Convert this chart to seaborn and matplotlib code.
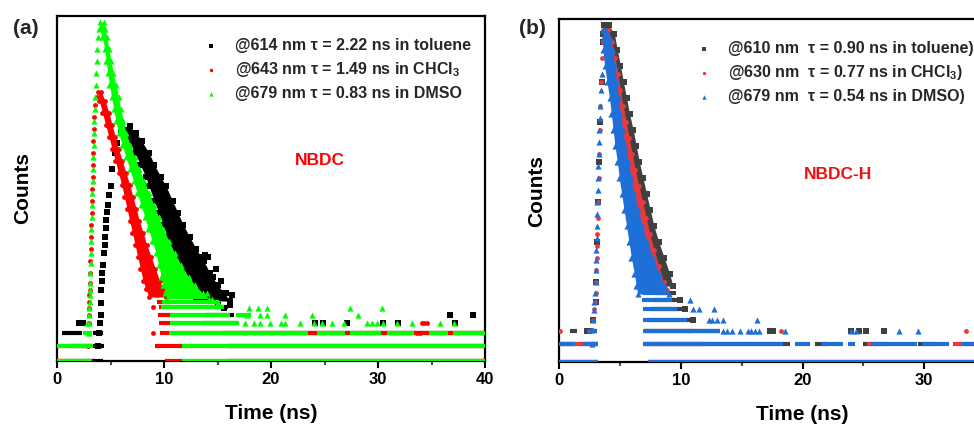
import numpy as np
import pandas as pd
import matplotlib
matplotlib.use("Agg")
import matplotlib.pyplot as plt
import seaborn as sns
from matplotlib.ticker import MultipleLocator, NullLocator, FixedLocator

# ------------------------------------------------------------------
# Data.  y values are log10(counts) (arbitrary
# count unit, no y tick labels in the original); x values are time, ns.
# Bands: horizontal slices (log level, left time, right time) of the
# dense point clouds. Rows: (log level, t_start, t_end) runs of points
# at the low quantised count levels. Iso: isolated points.
# ------------------------------------------------------------------

# ---------------- panel (a)  NBDC ----------------
a_labels = ["@614 nm \u03c4 = 2.22 ns in toluene",
            "@643 nm \u03c4 = 1.49 ns in CHCl$_{3}$",
            "@679 nm \u03c4 = 0.83 ns in DMSO"]

# toluene (black)
a_tol_band_L = [2.93, 2.85, 2.75, 2.6, 2.45, 2.3, 2.18, 2.0, 1.85, 1.7, 1.55, 1.4, 1.25, 1.1, 0.95, 0.85, 0.75]
a_tol_band_left = [6.0, 6.0, 6.6, 7.3, 7.8, 8.3, 8.6, 9.1, 9.5, 9.9, 10.3, 10.7, 11.1, 11.6, 12.1, 12.6, 13.0]
a_tol_band_right = [6.8, 7.4, 7.9, 8.6, 9.1, 9.7, 10.2, 10.8, 11.3, 11.8, 12.4, 13.0, 13.7, 14.3, 15.0, 15.6, 16.2]
a_tol_rise_t = [3.8, 3.9, 4.0, 4.1, 4.1, 4.15, 4.2, 4.25, 4.3, 4.4, 4.45, 4.5, 4.55, 4.62, 4.7, 4.8, 4.9, 5.0, 5.15, 5.4, 5.6, 6.0]
a_tol_rise_L = [0.19, 0.35, 0.47, 0.575, 0.73, 0.89, 1.0, 1.1, 1.2, 1.35, 1.45, 1.55, 1.66, 1.76, 1.86, 1.95, 2.07, 2.18, 2.4, 2.6, 2.72, 2.88]
a_tol_rows = [(0.0, 0.0, 4.3), (0.0, 16.0, 40.0), (0.19, 1.2, 4.35), (0.19, 16.0, 40.0),
              (0.35, 0.5, 2.3), (0.35, 3.4, 4.3), (0.35, 15.5, 40.0), (0.47, 3.8, 4.3),
              (0.47, 13.5, 17.0), (0.575, 13.8, 16.5), (0.67, 14.0, 16.0)]
a_tol_iso_t = [13.4, 13.8, 14.1, 14.6, 14.9, 15.3, 15.4, 15.8, 16.4, 15.0, 15.6, 16.2,
               2.1, 2.4, 24.1, 24.9, 27.1, 30.5, 31.9, 37.2, 36.7, 38.9]
a_tol_iso_L = [1.3, 1.32, 1.3, 1.05, 1.15, 1.0, 0.82, 0.85, 0.82, 0.7, 0.66, 0.7,
               0.47, 0.47, 0.47, 0.47, 0.47, 0.47, 0.47, 0.47, 0.575, 0.575]

# CHCl3 (red)
a_chl_band_L = [3.36, 3.25, 3.1, 2.95, 2.8, 2.65, 2.5, 2.35, 2.2, 2.05, 1.9, 1.75, 1.6, 1.45, 1.3, 1.15, 1.0, 0.9, 0.8]
a_chl_band_left = [3.85, 3.95, 4.25, 4.55, 4.85, 5.15, 5.45, 5.75, 6.05, 6.3, 6.55, 6.8, 7.05, 7.3, 7.55, 7.8, 8.05, 8.3, 8.6]
a_chl_band_right = [4.15, 4.5, 4.85, 5.15, 5.45, 5.75, 6.1, 6.45, 6.8, 7.1, 7.4, 7.7, 8.05, 8.4, 8.8, 9.2, 9.6, 9.9, 10.2]
a_chl_rise_t = [2.9, 2.92, 2.95, 2.97, 3.0, 3.0, 3.03, 3.05, 3.05, 3.1, 3.12, 3.15, 3.18, 3.2, 3.23, 3.26, 3.3, 3.32, 3.35, 3.38, 3.4, 3.45, 3.5, 3.58, 3.7]
a_chl_rise_L = [0.19, 0.35, 0.47, 0.575, 0.66, 0.74, 0.83, 0.89, 0.97, 1.1, 1.25, 1.4, 1.55, 1.7, 1.85, 2.0, 2.15, 2.3, 2.45, 2.6, 2.75, 2.9, 3.05, 3.2, 3.3]
a_chl_rows = [(0.0, 0.0, 3.2), (0.0, 10.1, 40.0), (0.19, 0.0, 3.3), (0.19, 9.2, 40.0),
              (0.35, 9.6, 40.0), (0.47, 9.5, 11.5), (0.575, 9.4, 11.0), (0.67, 9.5, 10.5),
              (0.74, 9.3, 10.6)]
a_chl_iso_t = [9.0, 9.0, 33.6, 33.9, 34.1, 34.3, 34.6, 9.3, 9.6]
a_chl_iso_L = [0.35, 0.67, 0.35, 0.35, 0.47, 0.47, 0.47, 0.82, 0.9]

# DMSO (green)
a_dmso_band_L = [4.23, 4.15, 4.05, 3.9, 3.75, 3.6, 3.45, 3.3, 3.15, 3.0, 2.85, 2.7, 2.55, 2.4, 2.25, 2.1, 1.95, 1.8, 1.65, 1.5, 1.35, 1.2, 1.05, 0.95, 0.85, 0.78]
a_dmso_band_left = [4.0, 3.95, 4.25, 4.45, 4.6, 4.75, 4.9, 5.1, 5.3, 5.5, 5.75, 6.1, 6.45, 6.8, 7.15, 7.5, 7.85, 8.2, 8.55, 8.9, 9.25, 9.5, 9.75, 9.95, 10.1, 10.3]
a_dmso_band_right = [4.4, 4.5, 4.65, 4.85, 5.05, 5.25, 5.5, 5.75, 5.95, 6.2, 6.45, 6.85, 7.25, 7.7, 8.15, 8.6, 9.05, 9.5, 9.95, 10.45, 11.0, 11.6, 12.3, 12.9, 13.6, 14.2]
a_dmso_rise_t = [2.95, 2.95, 3.0, 3.0, 3.05, 3.05, 3.1, 3.1, 3.12, 3.15, 3.18, 3.2, 3.22, 3.25, 3.28, 3.3, 3.33, 3.36, 3.4, 3.42, 3.46, 3.5, 3.53, 3.56, 3.6, 3.64, 3.7, 3.78, 3.87]
a_dmso_rise_L = [0.35, 0.47, 0.575, 0.66, 0.74, 0.83, 0.89, 0.97, 1.1, 1.22, 1.35, 1.5, 1.65, 1.8, 1.95, 2.1, 2.25, 2.4, 2.55, 2.7, 2.85, 3.0, 3.15, 3.3, 3.45, 3.6, 3.75, 3.9, 4.05]
a_dmso_rows = [(0.0, 0.0, 3.3), (0.0, 11.7, 40.0), (0.19, 0.0, 3.4), (0.19, 11.7, 40.0),
               (0.35, 2.4, 3.3), (0.35, 10.5, 23.5), (0.35, 24.3, 26.9), (0.35, 27.4, 30.3),
               (0.35, 30.8, 33.4), (0.35, 34.8, 36.5), (0.35, 37.0, 40.0),
               (0.47, 10.6, 17.0), (0.575, 10.6, 16.2), (0.575, 16.7, 18.1),
               (0.67, 9.7, 15.6), (0.74, 9.8, 15.0)]
a_dmso_iso_t = [2.85, 17.6, 18.4, 19.0, 19.9, 20.9, 21.3, 22.7, 24.0, 24.8, 25.7, 26.8, 29.0, 29.4, 29.9,
                30.5, 31.8, 33.2, 35.8, 37.1, 17.8, 19.0, 19.6, 21.3, 23.8, 28.1,
                17.9, 18.8, 19.6, 27.4, 30.4, 12.5, 13.5, 14.5, 15.0, 14.0]
a_dmso_iso_L = [0.47] * 20 + [0.575] * 6 + [0.66] * 5 + [0.9, 0.82, 0.78, 0.74, 0.85]

# ---------------- panel (b)  NBDC-H ----------------
b_labels = ["@610 nm  \u03c4 = 0.90 ns in toluene)",
            "@630 nm  \u03c4 = 0.77 ns in CHCl$_{3}$)",
            "@679 nm  \u03c4 = 0.54 ns in DMSO)"]

# toluene (dark grey)
b_tol_band_L = [4.21, 4.1, 3.9, 3.7, 3.5, 3.3, 3.1, 2.9, 2.7, 2.5, 2.3, 2.1, 1.9, 1.7, 1.5, 1.3, 1.1, 0.95]
b_tol_band_left = [3.7, 3.65, 4.1, 4.3, 4.5, 4.7, 4.9, 5.1, 5.3, 5.5, 5.75, 6.0, 6.25, 6.5, 6.75, 7.0, 7.3, 7.6]
b_tol_band_right = [4.1, 4.55, 4.8, 5.05, 5.3, 5.55, 5.8, 6.1, 6.35, 6.6, 6.9, 7.2, 7.5, 7.8, 8.2, 8.65, 9.1, 9.35]
b_tol_rise_t = [2.3, 2.5, 2.8, 3.0, 3.05, 3.1, 3.2, 3.3, 3.4, 3.5, 3.6]
b_tol_rise_L = [0.39, 0.39, 0.53, 0.75, 1.0, 1.5, 2.0, 2.5, 3.0, 3.5, 4.0]
b_tol_rows = [(0.0, 0.0, 3.2), (0.0, 7.3, 40.0), (0.23, 0.0, 3.2), (0.23, 6.9, 19.0),
              (0.23, 21.0, 22.0), (0.23, 25.0, 27.0), (0.23, 29.5, 31.0), (0.23, 33.0, 35.0),
              (0.39, 0.9, 1.5), (0.39, 2.3, 3.1), (0.39, 7.0, 13.2), (0.53, 7.2, 11.0),
              (0.66, 7.5, 10.4), (0.77, 7.8, 10.0), (0.86, 8.0, 9.6)]
b_tol_iso_t = [17.3, 17.6, 24.0, 24.6, 25.2, 26.7, 9.9, 10.35, 11.0]
b_tol_iso_L = [0.39, 0.39, 0.39, 0.39, 0.39, 0.39, 0.77, 0.66, 0.53]

# CHCl3 (red)
b_chl_band_L = [4.15, 4.0, 3.8, 3.6, 3.4, 3.2, 3.0, 2.8, 2.6, 2.4, 2.2, 2.0, 1.8, 1.6, 1.4, 1.2, 1.0, 0.9]
b_chl_band_left = [3.65, 3.65, 4.05, 4.25, 4.45, 4.65, 4.85, 5.05, 5.25, 5.45, 5.7, 5.95, 6.2, 6.45, 6.7, 6.95, 7.2, 7.4]
b_chl_band_right = [4.05, 4.35, 4.62, 4.85, 5.05, 5.27, 5.52, 5.77, 6.02, 6.27, 6.57, 6.87, 7.17, 7.47, 7.82, 8.2, 8.6, 8.85]
b_chl_rise_t = [2.7, 2.75, 2.8, 2.9, 2.95, 3.0, 3.05, 3.05, 3.1, 3.12, 3.15, 3.18, 3.2, 3.25, 3.3, 3.35, 3.4, 3.47, 3.55]
b_chl_rise_L = [0.23, 0.4, 0.53, 0.66, 0.75, 0.86, 1.0, 1.15, 1.3, 1.45, 1.6, 1.8, 2.0, 2.3, 2.6, 2.9, 3.2, 3.5, 3.8]
b_chl_rows = [(0.0, 0.0, 3.2), (0.0, 7.3, 40.0), (0.23, 0.0, 3.2), (0.23, 6.9, 12.0),
              (0.23, 25.3, 25.8), (0.23, 32.4, 33.0), (0.39, 6.9, 11.0)]
b_chl_iso_t = [0.1, 18.2, 33.4, 2.5]
b_chl_iso_L = [0.39, 0.39, 0.39, 0.39]

# DMSO (blue)
b_dmso_band_L = [4.15, 4.05, 3.9, 3.7, 3.5, 3.3, 3.1, 2.9, 2.7, 2.5, 2.3, 2.1, 1.9, 1.7, 1.5, 1.3, 1.1, 0.95, 0.85]
b_dmso_band_left = [3.62, 3.58, 3.6, 3.75, 3.95, 4.15, 4.3, 4.45, 4.6, 4.8, 4.95, 5.15, 5.35, 5.55, 5.75, 5.95, 6.2, 6.35, 6.45]
b_dmso_band_right = [3.85, 4.2, 4.4, 4.6, 4.75, 4.9, 5.05, 5.25, 5.45, 5.7, 5.95, 6.2, 6.5, 6.85, 7.25, 7.75, 8.25, 8.7, 9.0]
b_dmso_rise_t = [2.7, 2.75, 2.8, 2.85, 2.9, 2.95, 3.0, 3.0, 3.05, 3.05, 3.1, 3.1, 3.12, 3.15, 3.17, 3.2, 3.22, 3.25, 3.28, 3.32, 3.36, 3.4, 3.45, 3.5]
b_dmso_rise_L = [0.23, 0.4, 0.53, 0.65, 0.75, 0.86, 1.0, 1.15, 1.28, 1.4, 1.55, 1.7, 1.85, 2.0, 2.15, 2.3, 2.45, 2.6, 2.75, 2.9, 3.05, 3.2, 3.4, 3.6]
b_dmso_rows = [(0.0, 0.0, 3.2), (0.0, 7.3, 40.0), (0.23, 0.1, 1.3), (0.23, 2.0, 3.2),
               (0.23, 6.9, 18.4), (0.23, 19.4, 20.6), (0.23, 21.6, 23.3), (0.23, 23.7, 24.3),
               (0.23, 25.6, 29.4), (0.23, 29.8, 32.0), (0.23, 33.0, 35.5), (0.23, 36.0, 40.0),
               (0.39, 2.4, 3.1), (0.39, 7.0, 13.2), (0.53, 6.9, 10.5), (0.66, 6.9, 9.7),
               (0.77, 6.8, 9.3), (0.86, 6.9, 8.9)]
b_dmso_iso_t = [13.5, 13.8, 14.2, 14.9, 15.5, 15.8, 16.1, 16.4, 18.6, 24.0, 24.4, 27.9, 29.5,
                12.3, 12.6, 13.0, 13.5, 16.3, 11.0, 11.5, 12.7, 10.8]
b_dmso_iso_L = [0.39] * 13 + [0.53] * 5 + [0.66] * 3 + [0.77]

x_ticks_a = [0, 10, 20, 30, 40]
x_ticks_b = [0, 10, 20, 30]

# ------------------------------------------------------------------
sns.set_theme(style="white")
plt.rcParams["font.family"] = ["Liberation Sans", "DejaVu Sans"]
plt.rcParams["font.weight"] = "bold"
plt.rcParams["axes.labelweight"] = "bold"
plt.rcParams["mathtext.fontset"] = "custom"
plt.rcParams["mathtext.rm"] = "Liberation Sans:bold"
plt.rcParams["mathtext.it"] = "Liberation Sans:bold"
plt.rcParams["mathtext.bf"] = "Liberation Sans:bold"

fig = plt.figure(figsize=(9.74, 4.28), dpi=100)
ax_a = fig.add_axes([57 / 974, (428 - 361) / 428, 428 / 974, 345 / 428])
ax_b = fig.add_axes([559 / 974, (428 - 362) / 428, 487 / 974, 343 / 428])


def draw_series(ax, band_L, band_left, band_right, rise_t, rise_L, rows, iso_t, iso_L,
                color, marker, size, label, z):
    band_c = 10.0 ** np.asarray(band_L)
    ax.fill_betweenx(band_c, band_left, band_right, color=color, lw=0, zorder=z)
    for L, t0, t1 in rows:
        ax.hlines(10.0 ** L, t0, t1, colors=color, lw=3.0, zorder=z)
    pts = pd.DataFrame({
        "t": np.concatenate([band_left, band_right, rise_t, iso_t]),
        "L": np.concatenate([band_L, band_L, rise_L, iso_L]),
    })
    pts["counts"] = 10.0 ** pts["L"]
    sns.scatterplot(data=pts, x="t", y="counts", ax=ax, color=color, marker=marker,
                    s=size, linewidth=0, label=label, zorder=z)


for ax, top in ((ax_a, 4.31), (ax_b, 4.29)):
    ax.set_yscale("log")
    ax.set_xlim(0, 40)
    ax.set_ylim(1, 10 ** top)

a_specs = [
    (a_tol_band_L, a_tol_band_left, a_tol_band_right, a_tol_rise_t, a_tol_rise_L, a_tol_rows, a_tol_iso_t, a_tol_iso_L, "#000000", "s", 14),
    (a_chl_band_L, a_chl_band_left, a_chl_band_right, a_chl_rise_t, a_chl_rise_L, a_chl_rows, a_chl_iso_t, a_chl_iso_L, "#ff0000", "o", 12),
    (a_dmso_band_L, a_dmso_band_left, a_dmso_band_right, a_dmso_rise_t, a_dmso_rise_L, a_dmso_rows, a_dmso_iso_t, a_dmso_iso_L, "#00ff00", "^", 20),
]
for i, (spec, lab) in enumerate(zip(a_specs, a_labels)):
    draw_series(ax_a, *spec[:8], color=spec[8], marker=spec[9], size=spec[10], label=lab, z=3 + i)

b_specs = [
    (b_tol_band_L, b_tol_band_left, b_tol_band_right, b_tol_rise_t, b_tol_rise_L, b_tol_rows, b_tol_iso_t, b_tol_iso_L, "#404040", "s", 14),
    (b_chl_band_L, b_chl_band_left, b_chl_band_right, b_chl_rise_t, b_chl_rise_L, b_chl_rows, b_chl_iso_t, b_chl_iso_L, "#e8393c", "o", 12),
    (b_dmso_band_L, b_dmso_band_left, b_dmso_band_right, b_dmso_rise_t, b_dmso_rise_L, b_dmso_rows, b_dmso_iso_t, b_dmso_iso_L, "#1f6fd8", "^", 20),
]
for i, (spec, lab) in enumerate(zip(b_specs, b_labels)):
    draw_series(ax_b, *spec[:8], color=spec[8], marker=spec[9], size=spec[10], label=lab, z=3 + i)

for ax, pad, ticks in ((ax_a, 18, x_ticks_a), (ax_b, 9, x_ticks_b)):
    ax.set_yticks([])
    ax.yaxis.set_minor_locator(NullLocator())
    ax.xaxis.set_major_locator(FixedLocator(ticks))
    ax.xaxis.set_minor_locator(MultipleLocator(5))
    ax.tick_params(axis="x", which="major", direction="out", length=5, width=1.5,
                   labelsize=12, pad=3, bottom=True, colors="black")
    ax.tick_params(axis="x", which="minor", direction="out", length=3, width=1.2, bottom=True)
    for sp in ax.spines.values():
        sp.set_visible(True)
        sp.set_color("black")
        sp.set_linewidth(1.6)
    ax.set_xlabel("Time (ns)", fontsize=15, fontweight="bold", labelpad=12, color="black")
    ax.set_ylabel("Counts", fontsize=15, fontweight="bold", labelpad=pad, color="black")
    for lbl in ax.get_xticklabels():
        lbl.set_fontweight("bold")

leg_kw = dict(loc="upper left", frameon=False, prop={"size": 11.5, "weight": "bold"},
              handlelength=1.0, handletextpad=1.0, labelspacing=0.42, borderaxespad=0,
              borderpad=0, markerscale=0.7)
ax_a.legend(bbox_to_anchor=(0.341, 0.935), **leg_kw)
ax_b.legend(bbox_to_anchor=(0.281, 0.935), **leg_kw)

ax_a.text(24.6, 10 ** 2.5, "NBDC", color="#ff0000", fontsize=12.5, fontweight="bold",
          ha="center", va="center")
ax_b.text(22.9, 10 ** 2.34, "NBDC-H", color="#ee1111", fontsize=12.5, fontweight="bold",
          ha="center", va="center")

fig.text(26 / 974, 1 - 28 / 428, "(a)", fontsize=15, fontweight="bold", ha="center", va="center")
fig.text(532 / 974, 1 - 28 / 428, "(b)", fontsize=15, fontweight="bold", ha="center", va="center")

fig.savefig("out.png", dpi=100)
